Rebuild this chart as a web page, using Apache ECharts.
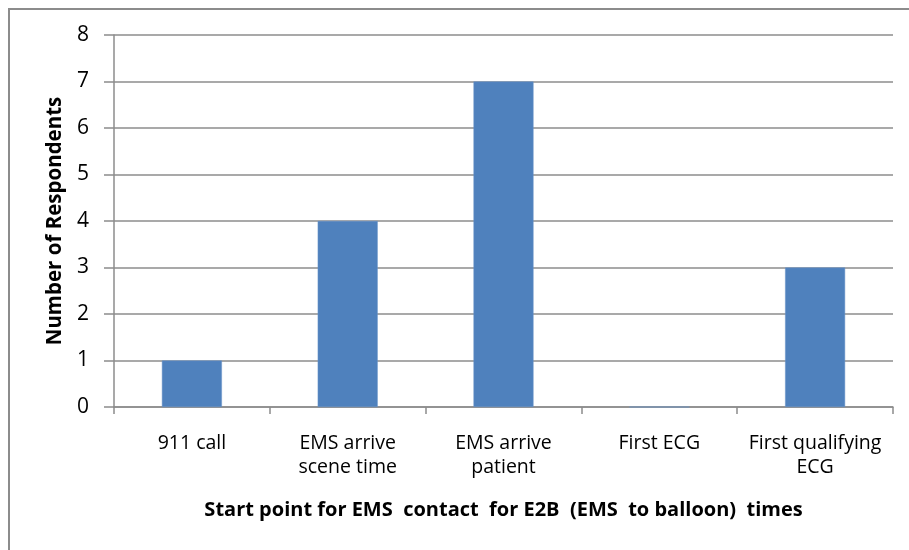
<!DOCTYPE html>
<html>
<head>
<meta charset="utf-8">
<script src="https://cdn.jsdelivr.net/npm/echarts@6/dist/echarts.min.js"></script>
<style>
  html, body { margin: 0; padding: 0; background: #ffffff; }
  #frame { position: absolute; left: 8px; top: 8px; width: 920px; height: 560px;
           border: 2px solid #8c8c8c; box-sizing: border-box; }
  #chart { position: absolute; left: 0; top: 0; width: 909px; height: 550px; }
</style>
</head>
<body>
<div id="frame"></div>
<div id="chart"></div>
<script>
// Survey responses: starting point used for EMS contact in E2B timing
const categories = ['911 call', 'EMS arrive\nscene time', 'EMS arrive\npatient', 'First ECG', 'First qualifying\nECG'];
const respondents = [1, 4, 7, 0, 3];
const yTicks = { min: 0, max: 8, interval: 1 };

const xTitle = 'Start point for EMS  contact  for E2B  (EMS  to balloon)  times';
const yTitle = 'Number of Respondents';

const fontFamily = '"Open Sans", "Noto Sans", sans-serif';
const axisGray = '#8c8c8c';

const chart = echarts.init(document.getElementById('chart'), null, { renderer: 'canvas' });
chart.setOption({
  backgroundColor: 'transparent',
  animation: false,
  grid: { left: 114, right: 16, top: 35, bottom: 143, containLabel: false },
  xAxis: {
    type: 'category',
    data: categories,
    boundaryGap: true,
    axisLine: { show: true, lineStyle: { color: axisGray, width: 1.5 } },
    axisTick: { show: true, alignWithLabel: false, length: 7, lineStyle: { color: axisGray, width: 1.5 } },
    axisLabel: { color: '#000', fontFamily: fontFamily, fontSize: 19.5, lineHeight: 24, margin: 24, interval: 0 },
    name: xTitle,
    nameLocation: 'middle',
    nameGap: 93,
    nameTextStyle: { color: '#000', fontFamily: fontFamily, fontSize: 20, fontWeight: 'bold' }
  },
  yAxis: {
    type: 'value',
    min: yTicks.min,
    max: yTicks.max,
    interval: yTicks.interval,
    axisLine: { show: true, lineStyle: { color: axisGray, width: 1.5 } },
    axisTick: { show: true, length: 10, lineStyle: { color: axisGray, width: 1.5 } },
    axisLabel: { color: '#000', fontFamily: fontFamily, fontSize: 21, margin: 25 },
    splitLine: { show: true, lineStyle: { color: axisGray, width: 1.5 } },
    name: yTitle,
    nameLocation: 'middle',
    nameGap: 46,
    nameRotate: 90,
    nameTextStyle: { color: '#000', fontFamily: fontFamily, fontSize: 20.5, fontWeight: 'bold' }
  },
  series: [{
    type: 'bar',
    data: respondents,
    barWidth: 60,
    itemStyle: { color: '#4f81bd', borderColor: '#6a95c8', borderWidth: 0.5 }
  }]
});
</script>
</body>
</html>
